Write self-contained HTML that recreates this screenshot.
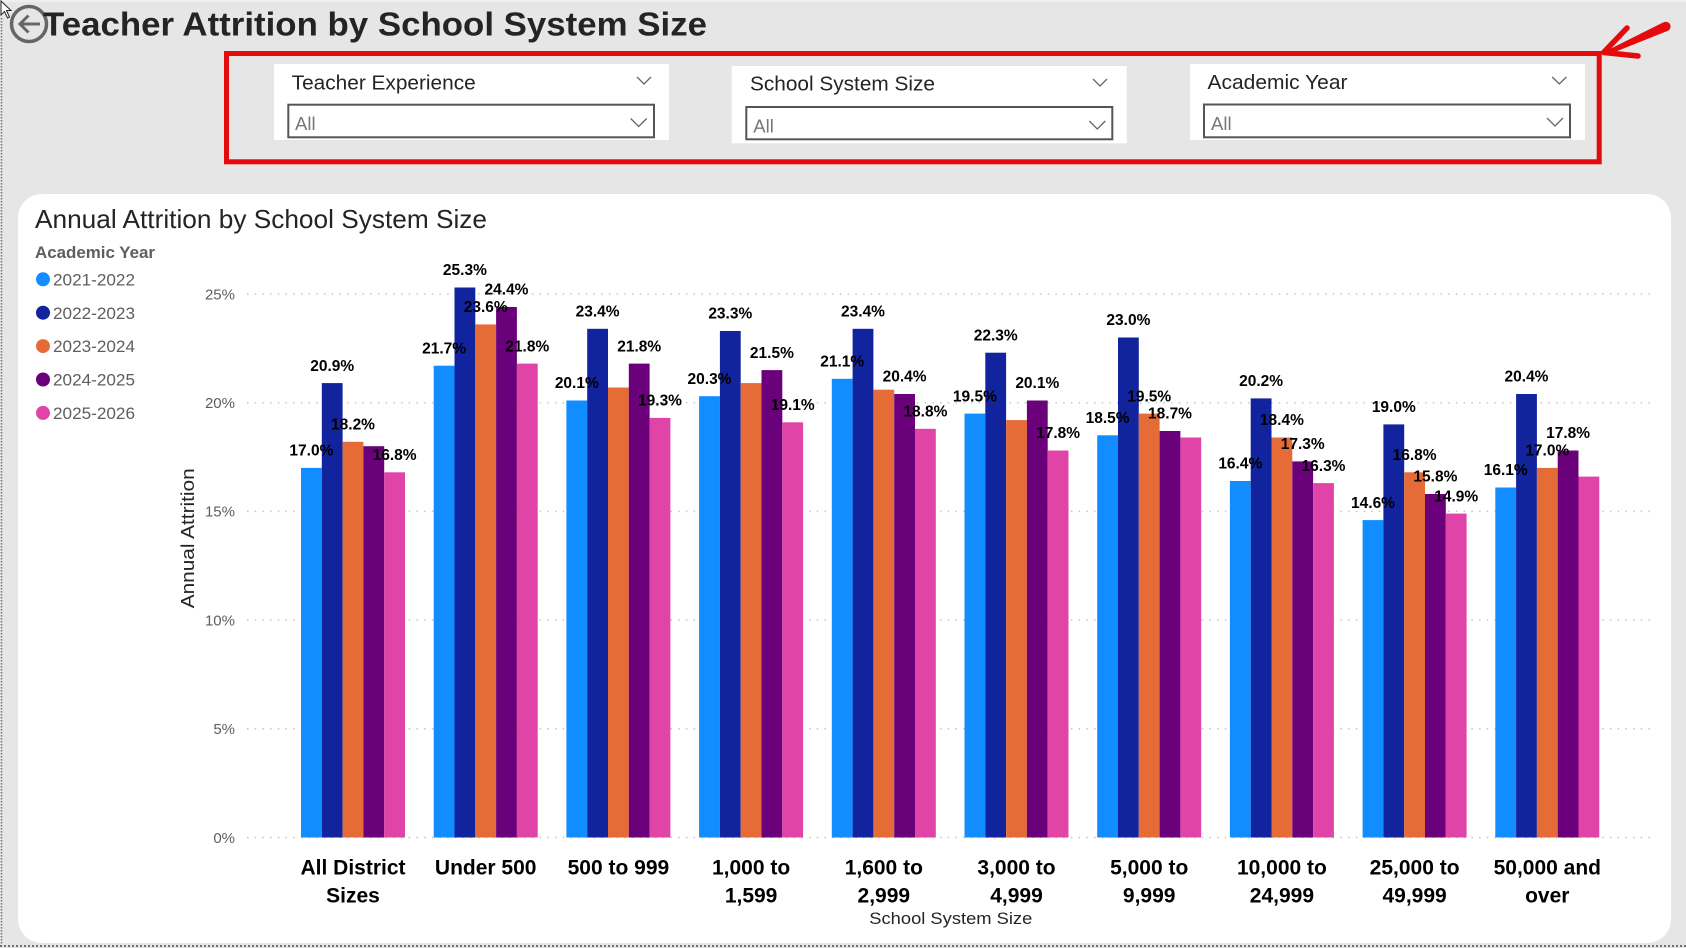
<!DOCTYPE html>
<html>
<head>
<meta charset="utf-8">
<style>
html,body{margin:0;padding:0;background:#E6E6E6;overflow:hidden;}
svg{display:block;font-family:"Liberation Sans",Arial,sans-serif;}
</style>
</head>
<body>
<svg width="1686" height="948" viewBox="0 0 1686 948" xmlns="http://www.w3.org/2000/svg">
<rect x="0" y="0" width="1686" height="948" fill="#E6E6E6"/>
<rect x="0" y="0" width="1686" height="2" fill="#EFEFEF"/>
<!-- dotted page borders -->
<line x1="1.5" y1="18" x2="1.5" y2="946" stroke="#707070" stroke-width="1.5" stroke-dasharray="1.5,1.5"/>
<line x1="0" y1="946" x2="1686" y2="946" stroke="#707070" stroke-width="2" stroke-dasharray="2,2"/>
<!-- cursor -->
<polygon points="1,1 1,15 4.5,11.5 7.5,18 9.5,17 6.5,10.5 11,10.5" fill="#fff" stroke="#222" stroke-width="1"/>

<!-- back icon -->
<circle cx="29" cy="24" r="17.5" fill="none" stroke="#666" stroke-width="3.5"/>
<line x1="20" y1="24" x2="40" y2="24" stroke="#666" stroke-width="3"/>
<polyline points="28.5,15.5 20,24 28.5,32.5" fill="none" stroke="#666" stroke-width="3"/>

<!-- page title -->
<text x="43" y="35.7" font-size="33" font-weight="bold" fill="#252423" textLength="664" lengthAdjust="spacingAndGlyphs">Teacher Attrition by School System Size</text>

<!-- slicers -->
<rect x="274" y="64" width="395" height="76" fill="#fff"/>
<text x="291.7" y="89.3" font-size="20.5" fill="#252423" textLength="184" lengthAdjust="spacingAndGlyphs">Teacher Experience</text>
<polyline points="637,77 644,84 651,77" fill="none" stroke="#666" stroke-width="1.3"/>
<rect x="288.3" y="104.7" width="365.7" height="32.6" fill="#fff" stroke="#555" stroke-width="2"/>
<text x="295" y="130" font-size="18.5" fill="#777">All</text>
<polyline points="630.7,118.5 638.7,126.5 646.7,118.5" fill="none" stroke="#666" stroke-width="1.3"/>

<rect x="731.7" y="66" width="395" height="77.3" fill="#fff"/>
<text x="750" y="90.7" font-size="20.5" fill="#252423" textLength="185" lengthAdjust="spacingAndGlyphs">School System Size</text>
<polyline points="1093,79 1100,86 1107,79" fill="none" stroke="#666" stroke-width="1.3"/>
<rect x="746.3" y="107" width="366" height="32.3" fill="#fff" stroke="#555" stroke-width="2"/>
<text x="753.3" y="132.7" font-size="18.5" fill="#777">All</text>
<polyline points="1089.3,121 1097.3,129 1105.3,121" fill="none" stroke="#666" stroke-width="1.3"/>

<rect x="1190" y="64" width="395" height="76" fill="#fff"/>
<text x="1207.5" y="89" font-size="20.5" fill="#252423" textLength="140" lengthAdjust="spacingAndGlyphs">Academic Year</text>
<polyline points="1552.3,77 1559.3,84 1566.3,77" fill="none" stroke="#666" stroke-width="1.3"/>
<rect x="1204" y="104.5" width="366" height="32.8" fill="#fff" stroke="#555" stroke-width="2"/>
<text x="1211" y="130" font-size="18.5" fill="#777">All</text>
<polyline points="1547,118 1555,126 1563,118" fill="none" stroke="#666" stroke-width="1.3"/>

<!-- red annotation -->
<rect x="226.5" y="53.5" width="1372.7" height="108.3" fill="none" stroke="#E30B0B" stroke-width="5"/>
<polygon points="1603,52.5 1663,22.5 1668.5,30.5 1606,55.5" fill="#E30B0B"/>
<circle cx="1665.8" cy="26.5" r="4.8" fill="#E30B0B"/>
<line x1="1604" y1="52" x2="1627" y2="28" stroke="#E30B0B" stroke-width="5.5" stroke-linecap="round"/>
<line x1="1604" y1="52.5" x2="1638" y2="56" stroke="#E30B0B" stroke-width="5.5" stroke-linecap="round"/>

<!-- card -->
<rect x="18" y="194" width="1653" height="749" rx="24" ry="24" fill="#fff"/>

<text x="35" y="228" font-size="26" fill="#252423" textLength="452" lengthAdjust="spacingAndGlyphs">Annual Attrition by School System Size</text>

<!-- legend -->
<text x="35" y="258" font-size="17" font-weight="bold" fill="#605E5C" textLength="120" lengthAdjust="spacingAndGlyphs">Academic Year</text>
<circle cx="43" cy="279.3" r="7" fill="#118DFF"/>
<text x="53" y="285.4" font-size="17" fill="#605E5C" textLength="82" lengthAdjust="spacingAndGlyphs">2021-2022</text>
<circle cx="43" cy="312.7" r="7" fill="#12239E"/>
<text x="53" y="318.8" font-size="17" fill="#605E5C" textLength="82" lengthAdjust="spacingAndGlyphs">2022-2023</text>
<circle cx="43" cy="346.1" r="7" fill="#E66C37"/>
<text x="53" y="352.2" font-size="17" fill="#605E5C" textLength="82" lengthAdjust="spacingAndGlyphs">2023-2024</text>
<circle cx="43" cy="379.5" r="7" fill="#6B007B"/>
<text x="53" y="385.6" font-size="17" fill="#605E5C" textLength="82" lengthAdjust="spacingAndGlyphs">2024-2025</text>
<circle cx="43" cy="412.9" r="7" fill="#E044A7"/>
<text x="53" y="419" font-size="17" fill="#605E5C" textLength="82" lengthAdjust="spacingAndGlyphs">2025-2026</text>

<!-- gridlines -->
<g stroke="#C8C6C4" stroke-width="1.5" stroke-dasharray="1.5,6.2">
<line x1="247" y1="294" x2="1650" y2="294"/>
<line x1="247" y1="402.7" x2="1650" y2="402.7"/>
<line x1="247" y1="511.4" x2="1650" y2="511.4"/>
<line x1="247" y1="620.1" x2="1650" y2="620.1"/>
<line x1="247" y1="728.8" x2="1650" y2="728.8"/>
<line x1="247" y1="837.5" x2="1650" y2="837.5"/>
</g>
<g font-size="15" fill="#605E5C" text-anchor="end">
<text x="235" y="299.3">25%</text>
<text x="235" y="408">20%</text>
<text x="235" y="516.7">15%</text>
<text x="235" y="625.4">10%</text>
<text x="235" y="734.1">5%</text>
<text x="235" y="842.8">0%</text>
</g>
<text transform="translate(194,538.3) rotate(-90)" text-anchor="middle" font-size="18" fill="#252423" textLength="140" lengthAdjust="spacingAndGlyphs">Annual Attrition</text>

<!-- bars -->
<g>
<rect x="301" y="467.9" width="20.8" height="369.6" fill="#118DFF"/>
<rect x="321.8" y="383.1" width="20.8" height="454.4" fill="#12239E"/>
<rect x="342.6" y="441.8" width="20.8" height="395.7" fill="#E66C37"/>
<rect x="363.4" y="446.2" width="20.8" height="391.3" fill="#6B007B"/>
<rect x="384.2" y="472.3" width="20.8" height="365.2" fill="#E044A7"/>

<rect x="433.7" y="365.7" width="20.8" height="471.8" fill="#118DFF"/>
<rect x="454.5" y="287.5" width="20.8" height="550" fill="#12239E"/>
<rect x="475.3" y="324.4" width="20.8" height="513.1" fill="#E66C37"/>
<rect x="496.1" y="307" width="20.8" height="530.5" fill="#6B007B"/>
<rect x="516.9" y="363.6" width="20.8" height="473.9" fill="#E044A7"/>

<rect x="566.4" y="400.5" width="20.8" height="437" fill="#118DFF"/>
<rect x="587.2" y="328.8" width="20.8" height="508.7" fill="#12239E"/>
<rect x="608" y="387.5" width="20.8" height="450" fill="#E66C37"/>
<rect x="628.8" y="363.6" width="20.8" height="473.9" fill="#6B007B"/>
<rect x="649.6" y="417.9" width="20.8" height="419.6" fill="#E044A7"/>

<rect x="699.1" y="396.2" width="20.8" height="441.3" fill="#118DFF"/>
<rect x="719.9" y="331" width="20.8" height="506.5" fill="#12239E"/>
<rect x="740.7" y="383.1" width="20.8" height="454.4" fill="#E66C37"/>
<rect x="761.5" y="370.1" width="20.8" height="467.4" fill="#6B007B"/>
<rect x="782.3" y="422.3" width="20.8" height="415.2" fill="#E044A7"/>

<rect x="831.8" y="378.8" width="20.8" height="458.7" fill="#118DFF"/>
<rect x="852.6" y="328.8" width="20.8" height="508.7" fill="#12239E"/>
<rect x="873.4" y="389.7" width="20.8" height="447.8" fill="#E66C37"/>
<rect x="894.2" y="394" width="20.8" height="443.5" fill="#6B007B"/>
<rect x="915" y="428.8" width="20.8" height="408.7" fill="#E044A7"/>

<rect x="964.5" y="413.6" width="20.8" height="423.9" fill="#118DFF"/>
<rect x="985.3" y="352.7" width="20.8" height="484.8" fill="#12239E"/>
<rect x="1006.1" y="420.1" width="20.8" height="417.4" fill="#E66C37"/>
<rect x="1026.9" y="400.5" width="20.8" height="437" fill="#6B007B"/>
<rect x="1047.7" y="450.5" width="20.8" height="387" fill="#E044A7"/>

<rect x="1097.2" y="435.3" width="20.8" height="402.2" fill="#118DFF"/>
<rect x="1118" y="337.5" width="20.8" height="500" fill="#12239E"/>
<rect x="1138.8" y="413.6" width="20.8" height="423.9" fill="#E66C37"/>
<rect x="1159.6" y="431" width="20.8" height="406.5" fill="#6B007B"/>
<rect x="1180.4" y="437.5" width="20.8" height="400" fill="#E044A7"/>

<rect x="1229.9" y="481" width="20.8" height="356.5" fill="#118DFF"/>
<rect x="1250.7" y="398.4" width="20.8" height="439.1" fill="#12239E"/>
<rect x="1271.5" y="437.5" width="20.8" height="400" fill="#E66C37"/>
<rect x="1292.3" y="461.4" width="20.8" height="376.1" fill="#6B007B"/>
<rect x="1313.1" y="483.1" width="20.8" height="354.4" fill="#E044A7"/>

<rect x="1362.6" y="520.1" width="20.8" height="317.4" fill="#118DFF"/>
<rect x="1383.4" y="424.4" width="20.8" height="413.1" fill="#12239E"/>
<rect x="1404.2" y="472.3" width="20.8" height="365.2" fill="#E66C37"/>
<rect x="1425" y="494" width="20.8" height="343.5" fill="#6B007B"/>
<rect x="1445.8" y="513.6" width="20.8" height="323.9" fill="#E044A7"/>

<rect x="1495.3" y="487.5" width="20.8" height="350" fill="#118DFF"/>
<rect x="1516.1" y="394" width="20.8" height="443.5" fill="#12239E"/>
<rect x="1536.9" y="467.9" width="20.8" height="369.6" fill="#E66C37"/>
<rect x="1557.7" y="450.5" width="20.8" height="387" fill="#6B007B"/>
<rect x="1578.5" y="476.6" width="20.8" height="360.9" fill="#E044A7"/>
</g>

<!-- data labels -->
<g font-size="15.5" font-weight="bold" fill="#000" text-anchor="middle">
<text x="311.4" y="455.6">17.0%</text>
<text x="332.2" y="370.8">20.9%</text>
<text x="353" y="429.5">18.2%</text>
<text x="394.6" y="460">16.8%</text>

<text x="444.1" y="353.4">21.7%</text>
<text x="464.9" y="275.2">25.3%</text>
<text x="485.7" y="312.1">23.6%</text>
<text x="506.5" y="294.7">24.4%</text>
<text x="527.3" y="351.3">21.8%</text>

<text x="576.8" y="388.2">20.1%</text>
<text x="597.6" y="316.5">23.4%</text>
<text x="639.2" y="351.3">21.8%</text>
<text x="660" y="405.6">19.3%</text>

<text x="709.5" y="383.9">20.3%</text>
<text x="730.3" y="318.7">23.3%</text>
<text x="771.9" y="357.8">21.5%</text>
<text x="792.7" y="410">19.1%</text>

<text x="842.2" y="366.5">21.1%</text>
<text x="863" y="316.5">23.4%</text>
<text x="904.6" y="381.7">20.4%</text>
<text x="925.4" y="416.5">18.8%</text>

<text x="974.9" y="401.3">19.5%</text>
<text x="995.7" y="340.4">22.3%</text>
<text x="1037.3" y="388.2">20.1%</text>
<text x="1058.1" y="438.2">17.8%</text>

<text x="1107.6" y="423">18.5%</text>
<text x="1128.4" y="325.2">23.0%</text>
<text x="1149.2" y="401.3">19.5%</text>
<text x="1170" y="418.7">18.7%</text>

<text x="1240.3" y="468.7">16.4%</text>
<text x="1261.1" y="386.1">20.2%</text>
<text x="1281.9" y="425.2">18.4%</text>
<text x="1302.7" y="449.1">17.3%</text>
<text x="1323.5" y="470.8">16.3%</text>

<text x="1373" y="507.8">14.6%</text>
<text x="1393.8" y="412.1">19.0%</text>
<text x="1414.6" y="460">16.8%</text>
<text x="1435.4" y="481.7">15.8%</text>
<text x="1456.2" y="501.3">14.9%</text>

<text x="1505.7" y="475.2">16.1%</text>
<text x="1526.5" y="381.7">20.4%</text>
<text x="1547.3" y="455.6">17.0%</text>
<text x="1568.1" y="438.2">17.8%</text>
</g>

<!-- x-axis labels -->
<g font-size="21" font-weight="bold" fill="#000" text-anchor="middle">
<text x="353" y="874.3">All District</text>
<text x="353" y="902.7">Sizes</text>
<text x="485.7" y="874.3">Under 500</text>
<text x="618.4" y="874.3">500 to 999</text>
<text x="751.1" y="874.3">1,000 to</text>
<text x="751.1" y="902.7">1,599</text>
<text x="883.8" y="874.3">1,600 to</text>
<text x="883.8" y="902.7">2,999</text>
<text x="1016.5" y="874.3">3,000 to</text>
<text x="1016.5" y="902.7">4,999</text>
<text x="1149.2" y="874.3">5,000 to</text>
<text x="1149.2" y="902.7">9,999</text>
<text x="1281.9" y="874.3">10,000 to</text>
<text x="1281.9" y="902.7">24,999</text>
<text x="1414.6" y="874.3">25,000 to</text>
<text x="1414.6" y="902.7">49,999</text>
<text x="1547.3" y="874.3">50,000 and</text>
<text x="1547.3" y="902.7">over</text>
</g>
<text x="950.8" y="924" text-anchor="middle" font-size="17" fill="#252423" textLength="163" lengthAdjust="spacingAndGlyphs">School System Size</text>
</svg>
</body>
</html>
